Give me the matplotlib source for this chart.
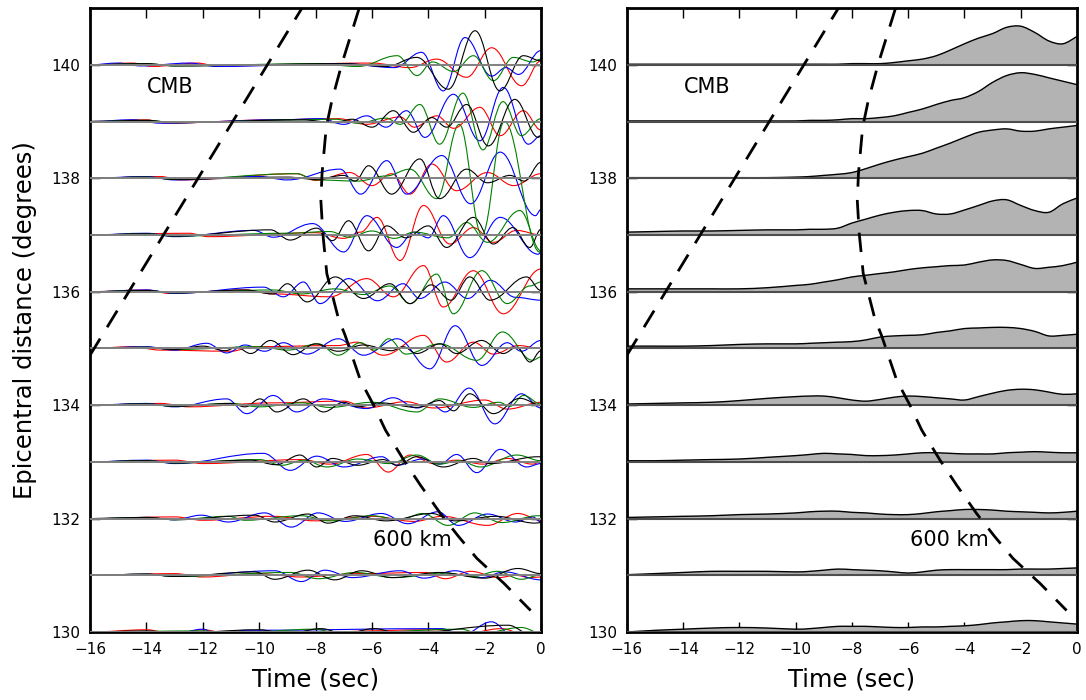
import matplotlib
matplotlib.use("Agg")
import matplotlib.pyplot as plt
from matplotlib.path import Path
from matplotlib.patches import PathPatch


DISTANCES = [130, 131, 132, 133, 134, 135, 136, 137, 138, 139, 140]

# wiggle extrema per trace: (time in s, amplitude in degrees)
RED = {
    140: [(-14.5, 0.03), (-13.8, -0.03), (-12.2, 0.03), (-11.5, -0.02), (-6.0, 0.03), (-4.65, -0.05), (-3.7, 0.10),
          (-2.64, -0.22), (-1.75, 0.30), (-0.69, -0.37), (0, 0.07)],
    139: [(-14.0, 0.03), (-13.3, -0.03), (-9.5, 0.03), (-7.2, 0.05), (-6.2, -0.05), (-5.0, 0.08), (-4.5, -0.10),
          (-3.7, 0.10), (-3.1, -0.12), (-2.17, 0.25), (-1.45, -0.25), (-0.63, 0.19), (0, -0.15)],
    138: [(-13.5, 0.03), (-12.8, -0.03), (-8.67, 0.08), (-8.0, -0.04), (-6.78, 0.10), (-6.0, -0.13), (-5.3, 0.08),
          (-4.65, -0.28), (-3.87, 0.25), (-3.0, -0.22), (-1.9, 0.10), (-0.97, -0.13), (0, 0.08)],
    137: [(-12.5, 0.03), (-11.8, -0.03), (-8.0, 0.04), (-7.0, -0.06), (-6.4, 0.05), (-5.82, 0.31), (-5.0, -0.45),
          (-4.17, 0.52), (-3.23, -0.16), (-2.4, 0.13), (-1.69, -0.13), (-0.87, 0.08), (0, 0.0)],
    136: [(-14.0, 0.03), (-13.2, -0.03), (-10.5, 0.03), (-9.5, -0.04), (-7.49, -0.09), (-6.18, 0.23), (-5.24, -0.09),
          (-4.17, 0.46), (-3.47, -0.27), (-2.4, 0.37), (-1.34, -0.39), (0, 0.40)],
    135: [(-14.5, 0.03), (-13.5, -0.03), (-11.0, -0.05), (-10.2, 0.03), (-7.2, 0.05), (-6.54, 0.11), (-5.59, -0.12),
          (-4.17, 0.23), (-3.35, -0.24), (-2.4, 0.11), (-1.69, -0.10), (-0.8, 0.05), (0, 0.0)],
    134: [(-13.5, 0.03), (-12.5, -0.03), (-9.5, 0.04), (-7.0, 0.07), (-6.2, -0.05), (-4.8, 0.06), (-3.8, -0.05),
          (-2.0, 0.09), (-1.2, -0.07), (0, 0.05)],
    133: [(-13.0, 0.03), (-12.0, -0.03), (-8.5, 0.04), (-7.5, -0.04), (-6.18, 0.13), (-5.42, -0.18), (-4.65, 0.12),
          (-3.8, -0.03), (-3.0, 0.03), (-2.05, -0.04), (-1.2, 0.06), (-0.3, -0.04), (0, 0.0)],
    132: [(-13.0, 0.03), (-12.0, -0.03), (-9.5, 0.04), (-8.0, -0.04), (-6.0, 0.04), (-4.5, -0.05), (-3.5, 0.04),
          (-1.9, -0.12), (-0.82, 0.09), (0, -0.03)],
    131: [(-13.0, 0.03), (-12.0, -0.03), (-10.0, 0.03), (-8.5, -0.03), (-6.5, 0.03), (-4.1, 0.05), (-3.4, -0.06),
          (-2.5, 0.07), (-1.5, -0.04), (-0.9, 0.0), (-0.4, -0.04), (0, -0.03)],
    130: [(-14.0, 0.04), (-13.0, -0.04), (-12.0, 0.04), (-11.0, -0.04), (-3.6, 0.04), (-2.9, -0.05), (-1.4, 0.06),
          (-0.6, -0.04), (0, -0.02)],
}

BLUE = {
    140: [(-15.0, 0.03), (-14.2, -0.02), (-12.5, 0.03), (-11.5, -0.03), (-7.0, 0.02), (-5.2, -0.05), (-4.24, 0.22),
          (-3.47, -0.46), (-2.7, 0.48), (-1.75, -0.20), (-1.25, -0.05), (-0.8, -0.17), (0, 0.25)],
    139: [(-14.5, 0.03), (-13.5, -0.03), (-9.3, 0.03), (-7.8, 0.05), (-7.0, -0.05), (-6.18, 0.10), (-5.5, -0.10),
          (-4.77, 0.19), (-4.12, -0.28), (-3.11, 0.48), (-2.17, -0.34), (-1.34, 0.60), (-0.45, -0.40), (0, -0.25)],
    138: [(-14.0, 0.03), (-13.0, -0.03), (-10.0, 0.03), (-9.0, -0.03), (-7.13, 0.16), (-6.4, -0.28), (-5.47, 0.31),
          (-4.77, -0.28), (-3.52, 0.40), (-2.5, -0.45), (-1.45, 0.46), (-0.2, -0.66), (0, -0.55)],
    137: [(-14.0, 0.03), (-13.0, -0.03), (-10.2, 0.08), (-9.5, -0.04), (-8.1, 0.20), (-7.0, -0.30), (-6.18, 0.34),
          (-5.12, -0.22), (-4.5, 0.05), (-4.0, -0.05), (-3.47, 0.34), (-2.53, -0.40), (-1.45, 0.31), (-0.1, -0.34),
          (0, -0.30)],
    136: [(-14.0, 0.03), (-13.0, -0.03), (-9.85, 0.08), (-9.14, -0.09), (-8.43, 0.17), (-7.84, -0.21), (-6.83, 0.23),
          (-5.8, -0.16), (-4.89, 0.14), (-4.3, -0.12), (-3.41, 0.17), (-2.6, -0.12), (-1.8, 0.20), (-0.9, -0.10),
          (0, -0.15)],
    135: [(-14.0, 0.03), (-13.0, -0.03), (-11.86, 0.09), (-11.15, -0.08), (-10.5, 0.06), (-9.8, -0.05), (-9.14, 0.10),
          (-8.3, -0.10), (-7.19, 0.17), (-6.3, -0.12), (-5.1, 0.17), (-3.94, -0.36), (-3.05, 0.40), (-2.1, -0.30),
          (-1.2, 0.10), (-0.7, -0.05), (0, 0.14)],
    134: [(-14.0, 0.03), (-13.0, -0.03), (-11.15, 0.11), (-10.44, -0.15), (-9.5, 0.17), (-8.67, -0.12), (-7.72, 0.11),
          (-6.2, -0.06), (-5.25, 0.13), (-4.4, -0.05), (-3.9, 0.02), (-3.4, -0.12), (-2.55, 0.30), (-1.64, -0.33),
          (-0.7, 0.20), (0, -0.05)],
    133: [(-14.0, 0.03), (-13.0, -0.03), (-9.85, 0.15), (-8.9, -0.15), (-7.96, 0.10), (-7.0, -0.09), (-5.65, 0.09),
          (-5.12, -0.06), (-4.2, 0.05), (-3.6, -0.04), (-2.99, 0.13), (-2.28, -0.19), (-1.45, 0.22), (-0.51, -0.09),
          (0, -0.03)],
    132: [(-14.0, 0.02), (-13.0, -0.02), (-12.05, 0.06), (-11.1, -0.06), (-9.8, 0.10), (-8.86, -0.15), (-7.91, 0.10),
          (-6.95, -0.05), (-5.67, 0.09), (-4.72, -0.09), (-3.66, 0.12), (-2.94, -0.12), (-1.9, 0.08), (-0.9, -0.06),
          (-0.3, 0.03), (0, -0.06)],
    131: [(-14.0, 0.02), (-13.0, -0.02), (-9.45, 0.08), (-8.5, -0.11), (-7.67, 0.09), (-6.7, -0.04), (-5.0, 0.08),
          (-4.15, -0.05), (-3.05, 0.08), (-2.1, -0.04), (-1.3, 0.06), (0, -0.08)],
    130: [(-13.0, -0.03), (-12.0, 0.05), (-11.5, -0.04), (-10.5, 0.03), (-3.54, 0.06), (-2.8, -0.05), (-1.76, 0.18),
          (-1.0, -0.06), (0, -0.03)],
}

GREEN = {
    140: [(-14.0, 0.02), (-13.0, -0.02), (-8.0, 0.02), (-6.5, -0.03), (-5.1, 0.16), (-4.4, -0.19), (-3.85, 0.05),
          (-3.1, -0.12), (-2.4, 0.16), (-1.69, -0.28), (-0.98, 0.13), (-0.3, 0.05), (0, 0.10)],
    139: [(-14.0, 0.02), (-13.0, -0.02), (-8.5, 0.03), (-7.3, 0.04), (-6.5, -0.03), (-5.5, 0.06), (-5.0, -0.05),
          (-4.3, 0.30), (-3.6, -0.40), (-2.77, 0.50), (-2.06, -0.50), (-1.35, 0.35), (-0.7, -0.25), (0, 0.05)],
    138: [(-14.0, 0.02), (-13.0, -0.02), (-8.67, 0.08), (-8.0, -0.03), (-6.5, -0.05), (-5.5, 0.04), (-4.65, 0.16),
          (-3.7, -0.36), (-2.9, 0.95), (-2.1, -1.00), (-1.3, 1.00), (-0.05, -1.30), (0, -1.28)],
    137: [(-14.0, 0.02), (-13.0, -0.02), (-9.0, 0.03), (-7.5, 0.06), (-6.8, -0.04), (-6.0, 0.07), (-5.2, -0.06),
          (-4.5, 0.05), (-3.3, -0.05), (-2.64, 0.22), (-1.9, -0.13), (-0.75, 0.43), (0, -0.28)],
    136: [(-14.0, 0.02), (-13.0, -0.02), (-9.5, 0.03), (-8.5, -0.04), (-7.3, 0.05), (-6.3, -0.05), (-5.36, 0.10),
          (-4.65, -0.21), (-3.7, 0.31), (-3.11, -0.39), (-2.1, 0.37), (-1.2, -0.21), (-0.4, 0.10), (0, 0.17)],
    135: [(-14.0, 0.02), (-13.0, -0.02), (-10.0, 0.03), (-9.0, -0.03), (-7.9, 0.08), (-7.2, -0.12), (-6.4, 0.10),
          (-5.9, -0.03), (-5.4, 0.17), (-4.8, -0.10), (-3.6, 0.08), (-2.28, -0.21), (-1.37, 0.29), (-0.3, -0.21),
          (0, -0.15)],
    134: [(-14.0, 0.02), (-13.0, -0.02), (-11.0, 0.03), (-10.0, -0.03), (-8.5, 0.04), (-7.5, -0.04), (-6.0, 0.05),
          (-4.4, -0.12), (-3.6, 0.11), (-2.4, -0.04), (-1.5, 0.05), (-1.1, -0.02), (-0.62, 0.17), (0, 0.02)],
    133: [(-14.0, 0.02), (-13.0, -0.02), (-10.0, 0.04), (-9.2, -0.06), (-8.4, 0.03), (-7.6, -0.09), (-6.5, 0.05),
          (-5.4, -0.03), (-4.41, 0.12), (-3.6, -0.04), (-2.9, 0.02), (-2.15, -0.09), (-0.86, 0.12), (0, 0.02)],
    132: [(-14.0, 0.02), (-13.0, -0.02), (-11.1, 0.04), (-10.5, -0.03), (-8.5, 0.05), (-7.5, -0.04), (-6.0, 0.05),
          (-5.0, -0.02), (-4.2, 0.09), (-3.3, -0.12), (-2.35, 0.10), (-1.4, -0.07), (-0.1, 0.05), (0, 0.05)],
    131: [(-14.0, 0.02), (-13.0, -0.02), (-8.9, 0.05), (-7.9, -0.06), (-6.6, 0.05), (-5.2, -0.04), (-3.4, 0.04),
          (-2.4, -0.02), (-1.55, 0.07), (-0.7, -0.07), (0, 0.01)],
    130: [(-12.0, 0.02), (-11.0, -0.02), (-8.0, 0.05), (-7.2, -0.03), (-2.83, 0.05), (-2.2, -0.03), (-0.7, 0.08),
          (0, -0.02)],
}

BLACK = {
    140: [(-14.0, 0.02), (-13.0, -0.02), (-7.0, 0.02), (-5.5, -0.03), (-4.41, 0.13), (-3.29, -0.43), (-2.34, 0.60),
          (-1.46, -0.46), (-0.63, 0.16), (0, 0.07)],
    139: [(-14.0, 0.02), (-13.0, -0.02), (-8.5, 0.03), (-7.3, -0.02), (-6.7, 0.04), (-6.0, -0.10), (-5.24, 0.19),
          (-4.53, -0.19), (-3.88, 0.07), (-3.35, -0.10), (-2.64, 0.30), (-1.87, -0.43), (-0.93, 0.39), (-0.1, -0.28),
          (0, -0.25)],
    138: [(-14.0, 0.02), (-13.0, -0.02), (-9.0, 0.02), (-8.0, -0.02), (-7.0, 0.05), (-6.6, -0.05), (-6.12, 0.22),
          (-5.3, -0.28), (-4.3, 0.34), (-3.6, -0.36), (-2.64, 0.16), (-1.9, -0.08), (-1.1, 0.05), (-0.6, -0.05),
          (0, 0.28)],
    137: [(-14.0, 0.02), (-13.0, -0.02), (-9.6, 0.09), (-8.9, -0.09), (-7.96, 0.12), (-7.4, -0.10), (-6.83, 0.25),
          (-6.12, -0.28), (-5.47, 0.16), (-4.8, -0.05), (-4.0, 0.16), (-3.35, -0.22), (-2.4, 0.31), (-1.69, -0.16),
          (-1.0, 0.13), (-0.4, -0.22), (0, 0.10)],
    136: [(-14.0, 0.02), (-13.0, -0.02), (-10.5, 0.03), (-9.5, -0.04), (-9.0, 0.14), (-8.3, -0.18), (-7.3, 0.26),
          (-6.3, -0.12), (-5.36, 0.14), (-4.65, -0.21), (-3.9, 0.12), (-3.2, -0.15), (-2.53, 0.26), (-1.81, -0.15),
          (-0.51, 0.26), (0, 0.02)],
    135: [(-14.0, 0.02), (-13.0, -0.02), (-12.0, 0.04), (-11.2, -0.04), (-10.8, 0.02), (-10.3, -0.09), (-9.6, 0.14),
          (-8.8, -0.11), (-8.0, 0.08), (-7.2, -0.05), (-6.3, 0.06), (-5.3, -0.04), (-4.9, 0.03), (-4.41, -0.09),
          (-3.58, 0.08), (-3.0, -0.09), (-2.11, 0.14), (-1.34, -0.09), (-0.86, 0.02), (-0.39, -0.24), (0, -0.04)],
    134: [(-14.0, 0.02), (-13.0, -0.02), (-11.0, 0.03), (-10.5, -0.03), (-9.97, 0.11), (-9.38, -0.12), (-8.43, 0.11),
          (-7.72, -0.12), (-7.0, 0.05), (-6.5, -0.03), (-5.7, 0.04), (-4.41, -0.04), (-3.6, 0.08), (-3.1, -0.10),
          (-2.53, 0.20), (-1.69, -0.15), (-0.75, 0.12), (0, 0.0)],
    133: [(-14.0, 0.02), (-13.0, -0.02), (-10.3, 0.03), (-9.4, -0.05), (-8.55, 0.12), (-7.96, -0.09), (-7.4, 0.06),
          (-6.5, -0.06), (-5.6, 0.04), (-5.1, -0.06), (-4.41, 0.09), (-3.47, -0.09), (-2.4, 0.06), (-1.8, -0.03),
          (-0.1, 0.09), (0, 0.09)],
    132: [(-14.0, 0.02), (-13.0, -0.02), (-10.16, 0.06), (-9.45, -0.06), (-8.27, 0.08), (-7.56, -0.08), (-6.6, 0.05),
          (-5.5, -0.04), (-3.89, 0.09), (-3.05, -0.04), (-1.6, 0.04), (-0.2, -0.08), (0, -0.07)],
    131: [(-14.0, 0.02), (-13.0, -0.02), (-10.16, 0.06), (-9.45, -0.07), (-8.27, 0.09), (-7.32, -0.08), (-6.37, 0.08),
          (-5.3, -0.04), (-3.6, 0.05), (-2.0, -0.05), (-0.82, 0.12), (0, 0.03)],
    130: [(-14.0, 0.02), (-13.0, -0.02), (-10.0, 0.04), (-9.0, -0.03), (-7.8, 0.06), (-7.0, -0.03), (-5.9, 0.06),
          (-5.0, -0.03), (-1.17, 0.12), (-0.4, -0.03), (0, 0.0)],
}

# envelope samples (degrees above the baseline) for the right panel
ENV_T = [-16, -15, -14, -13, -12, -11, -10, -9.5, -9, -8.5, -8, -7.5, -7, -6.5, -6, -5.5, -5, -4.5, -4,
         -3.5, -3, -2.5, -2, -1.5, -1, -0.5, 0]
ENVELOPE = {
    140: [0.01, 0.01, 0.01, 0.01, 0.01, 0.01, 0.01, 0.01, 0.01, 0.01, 0.02, 0.02, 0.02, 0.04, 0.07, 0.10, 0.16,
          0.26, 0.37, 0.47, 0.55, 0.66, 0.68, 0.57, 0.42, 0.37, 0.50],
    139: [0.01, 0.01, 0.01, 0.01, 0.01, 0.01, 0.01, 0.02, 0.02, 0.03, 0.05, 0.05, 0.07, 0.10, 0.16, 0.22, 0.30,
          0.37, 0.42, 0.53, 0.69, 0.81, 0.86, 0.83, 0.77, 0.71, 0.65],
    138: [0.01, 0.01, 0.01, 0.01, 0.01, 0.01, 0.02, 0.03, 0.05, 0.07, 0.10, 0.17, 0.25, 0.32, 0.38, 0.44, 0.53,
          0.62, 0.72, 0.81, 0.85, 0.87, 0.83, 0.83, 0.87, 0.90, 0.93],
    137: [0.05, 0.06, 0.07, 0.07, 0.08, 0.09, 0.09, 0.10, 0.10, 0.12, 0.21, 0.28, 0.35, 0.40, 0.43, 0.43, 0.37,
          0.37, 0.44, 0.52, 0.60, 0.62, 0.52, 0.43, 0.40, 0.55, 0.65],
    136: [0.05, 0.05, 0.05, 0.05, 0.05, 0.07, 0.11, 0.13, 0.17, 0.21, 0.26, 0.29, 0.32, 0.35, 0.39, 0.42, 0.44,
          0.46, 0.47, 0.52, 0.56, 0.55, 0.48, 0.41, 0.43, 0.46, 0.52],
    135: [0.04, 0.04, 0.04, 0.05, 0.07, 0.08, 0.08, 0.09, 0.10, 0.11, 0.12, 0.15, 0.20, 0.22, 0.23, 0.24, 0.28,
          0.31, 0.35, 0.36, 0.37, 0.37, 0.35, 0.30, 0.22, 0.23, 0.25],
    134: [0.02, 0.03, 0.04, 0.05, 0.08, 0.12, 0.15, 0.16, 0.16, 0.13, 0.09, 0.07, 0.10, 0.14, 0.16, 0.15, 0.13,
          0.11, 0.09, 0.15, 0.21, 0.26, 0.28, 0.27, 0.23, 0.19, 0.20],
    133: [0.02, 0.02, 0.03, 0.04, 0.05, 0.08, 0.11, 0.13, 0.15, 0.14, 0.13, 0.11, 0.11, 0.12, 0.14, 0.16, 0.16,
          0.15, 0.14, 0.14, 0.14, 0.16, 0.17, 0.18, 0.17, 0.16, 0.16],
    132: [0.02, 0.03, 0.04, 0.05, 0.07, 0.08, 0.10, 0.12, 0.13, 0.13, 0.11, 0.10, 0.08, 0.07, 0.07, 0.09, 0.12,
          0.14, 0.16, 0.16, 0.15, 0.13, 0.12, 0.11, 0.10, 0.11, 0.13],
    131: [0.01, 0.03, 0.05, 0.07, 0.07, 0.07, 0.06, 0.07, 0.09, 0.11, 0.10, 0.09, 0.08, 0.06, 0.04, 0.06, 0.09,
          0.10, 0.10, 0.10, 0.10, 0.10, 0.11, 0.11, 0.11, 0.12, 0.13],
    130: [0.00, 0.03, 0.05, 0.07, 0.08, 0.07, 0.05, 0.06, 0.08, 0.10, 0.10, 0.10, 0.09, 0.08, 0.08, 0.09, 0.09,
          0.10, 0.11, 0.13, 0.16, 0.18, 0.20, 0.20, 0.18, 0.16, 0.14],
}

# travel-time curves
CMB_T = [-16.0, -8.48]
CMB_Y = [134.88, 141.0]
KM600_T = [-6.45, -7.07, -7.42, -7.62, -7.77, -7.81, -7.74, -7.6, -7.19, -6.95, -6.41, -5.94, -5.52, -4.87,
           -4.28, -3.57, -2.92, -2.28, -1.32, -0.37]
KM600_Y = [141.0, 140.01, 139.37, 138.9, 138.08, 137.6, 137.02, 136.32, 135.53, 135.23, 134.44, 134.0, 133.56,
           133.03, 132.59, 132.09, 131.68, 131.3, 130.86, 130.38]

TRACE_COLORS = [("r", RED), ("b", BLUE), ("g", GREEN), ("k", BLACK)]
DASHES = (7.0, 4.8)


def wiggle_path(base, extrema, k=0.38):
    # cubic segments between extrema with flat tangents at each turning point
    pts = [(-16.0, 0.0)] + list(extrema)
    verts = [(pts[0][0], base + pts[0][1])]
    codes = [Path.MOVETO]
    for (t0, a0), (t1, a1) in zip(pts[:-1], pts[1:]):
        dt = t1 - t0
        verts += [(t0 + k * dt, base + a0), (t1 - k * dt, base + a1), (t1, base + a1)]
        codes += [Path.CURVE4] * 3
    return Path(verts, codes)


def envelope_path(base, times, values, closed):
    # Catmull-Rom style cubic segments through the samples
    pts = [(t, base + v) for t, v in zip(times, values)]
    n = len(pts)
    verts = [pts[0]]
    codes = [Path.MOVETO]
    for i in range(n - 1):
        p0 = pts[max(i - 1, 0)]
        p1 = pts[i]
        p2 = pts[i + 1]
        p3 = pts[min(i + 2, n - 1)]
        c1 = (p1[0] + (p2[0] - p0[0]) / 6, p1[1] + (p2[1] - p0[1]) / 6)
        c2 = (p2[0] - (p3[0] - p1[0]) / 6, p2[1] - (p3[1] - p1[1]) / 6)
        verts += [c1, c2, p2]
        codes += [Path.CURVE4] * 3
    if closed:
        verts += [(times[-1], base), (times[0], base), pts[0]]
        codes += [Path.LINETO, Path.LINETO, Path.CLOSEPOLY]
    return Path(verts, codes)


def style_axes(ax):
    ax.set_xlim(-16, 0)
    ax.set_ylim(130, 141)
    ax.set_xticks(range(-16, 1, 2))
    ax.set_yticks(range(130, 141, 2))
    ax.tick_params(direction="in", top=True, right=True, length=7, width=1, labelsize=11, pad=7)
    for sp in ax.spines.values():
        sp.set_linewidth(2)
    ax.set_xlabel("Time (sec)", fontsize=17.5, labelpad=8)


def draw_phases(ax):
    ax.plot(CMB_T, CMB_Y, color="k", lw=2, dashes=DASHES, zorder=5)
    ax.plot(KM600_T, KM600_Y, color="k", lw=2, dashes=DASHES, zorder=5)
    ax.text(-13.15, 139.6, "CMB", fontsize=15, ha="center", va="center")
    ax.text(-4.55, 131.62, "600 km", fontsize=15, ha="center", va="center")


fig = plt.figure(figsize=(10.86, 7.0), dpi=100)
ax_l = fig.add_axes([0.0829, 0.0971, 0.4153, 0.8914])
ax_r = fig.add_axes([0.5773, 0.0971, 0.4144, 0.8914])

for d in DISTANCES:
    for color, traces in TRACE_COLORS:
        patch = PathPatch(wiggle_path(d, traces[d]), facecolor="none", edgecolor=color, lw=0.8, zorder=2)
        ax_l.add_patch(patch)
    ax_l.axhline(d, color="0.5", lw=1.4, zorder=3)

for d in DISTANCES:
    fill = PathPatch(envelope_path(d, ENV_T, ENVELOPE[d], True), facecolor="0.7", edgecolor="none", zorder=2)
    ax_r.add_patch(fill)
    outline = PathPatch(envelope_path(d, ENV_T, ENVELOPE[d], False), facecolor="none", edgecolor="k",
                        lw=1, zorder=3)
    ax_r.add_patch(outline)
    ax_r.axhline(d, color="0.3", lw=1.5, zorder=3)

style_axes(ax_l)
style_axes(ax_r)
ax_l.set_ylabel("Epicentral distance (degrees)", fontsize=17.5, labelpad=10)
draw_phases(ax_l)
draw_phases(ax_r)

fig.savefig("out.png", dpi=100)
